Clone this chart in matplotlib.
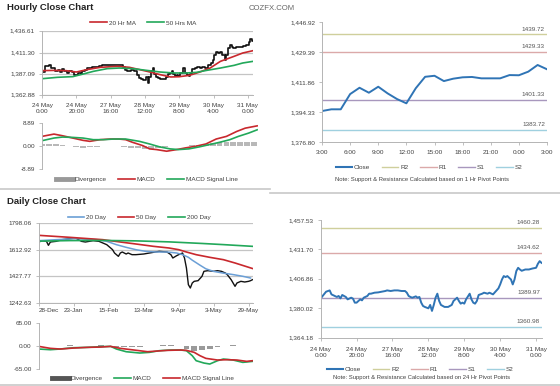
import matplotlib
matplotlib.use("Agg")
import matplotlib.pyplot as plt
from matplotlib.lines import Line2D

plt.rcParams["font.family"] = ["Liberation Sans", "DejaVu Sans"]

# hourly closes, 24 May 0:00 .. 31 May (bar index)
h_idx = [0, 3, 5, 6, 9, 10, 11, 12, 14, 15, 17, 18, 19, 20, 22, 23, 24, 26, 27, 28,
         30, 32, 34, 36, 37, 39, 41, 43, 45, 47, 48, 49, 50, 51, 53, 54, 55, 56, 57, 58,
         60, 61, 62, 63, 64, 65, 66, 67, 68, 69, 71, 73, 74, 75, 76, 77, 78, 79, 80, 81,
         83, 84, 85, 86, 87, 88, 90, 91, 93, 94, 96, 98, 99, 100, 101, 102, 103, 104, 106, 107,
         108, 109, 110, 111, 112, 114, 116, 118, 120, 121, 122, 123]
h_close = [1389.3, 1396.0, 1397.3, 1393.3, 1390.7, 1391.7, 1389.3, 1392.7, 1390.7, 1388.3,
           1390.0, 1389.0, 1385.0, 1385.0, 1388.3, 1387.3, 1390.0, 1391.7, 1394.0, 1394.0,
           1395.0, 1395.3, 1396.0, 1396.7, 1397.3, 1396.7, 1397.3, 1397.3, 1396.7, 1396.7,
           1395.0, 1391.7, 1390.7, 1390.0, 1391.3, 1390.0, 1390.7, 1385.0, 1381.7, 1380.7,
           1379.3, 1382.7, 1376.7, 1382.7, 1390.0, 1394.0, 1386.7, 1382.7, 1381.7, 1380.7,
           1380.7, 1382.7, 1386.7, 1388.3, 1390.0, 1386.7, 1384.0, 1385.0, 1384.0, 1388.3,
           1394.0, 1388.3, 1385.0, 1384.0, 1386.7, 1392.7, 1394.0, 1395.0, 1394.0, 1395.0,
           1393.3, 1397.3, 1399.3, 1403.3, 1408.3, 1411.7, 1410.7, 1411.7, 1408.3, 1403.3,
           1408.3, 1416.7, 1420.0, 1418.3, 1417.0, 1418.3, 1418.3, 1419.3, 1420.0, 1424.0,
           1426.7, 1425.0]
h_tick_idx = [0, 20, 40, 60, 80, 100, 120]
h_tick_labels = ["24 May\n0:00", "24 May\n20:00", "27 May\n16:00", "28 May\n12:00",
                 "29 May\n8:00", "30 May\n4:00", "31 May\n0:00"]

h_ma20_idx = [0, 7, 14, 20, 26, 34, 44, 51, 57, 63, 69, 75, 80, 86, 92, 98, 104, 112, 117, 123]
h_ma20 = [1390.6, 1390.9, 1390.6, 1389.0, 1391.7, 1394.4, 1395.6, 1394.4, 1391.7, 1389.0,
          1385.9, 1383.3, 1383.6, 1385.2, 1389.0, 1393.6, 1401.3, 1407.1, 1410.9, 1413.6]
h_ma50_idx = [0, 9, 18, 24, 30, 38, 45, 53, 61, 69, 77, 84, 90, 96, 104, 112, 117, 123]
h_ma50 = [1381.3, 1382.9, 1383.7, 1386.7, 1389.8, 1392.9, 1393.6, 1392.9, 1390.9, 1389.0,
          1387.9, 1387.9, 1388.6, 1390.9, 1393.6, 1396.7, 1399.4, 1401.3]

h_macd_idx = [0, 7, 12, 18, 24, 28, 34, 40, 45, 49, 53, 59, 63, 67, 73, 79, 84, 90, 96, 102,
              108, 114, 119, 126]
h_macd = [3.83, 4.72, 4.08, 3.19, 2.30, 1.92, 2.56, 2.81, 2.81, 2.56, 1.54, 0.27, -1.00, -1.26,
          -1.90, -1.26, -0.62, 0.01, 0.90, 2.81, 3.83, 5.73, 7.01, 7.90]
h_sig_idx = [0, 7, 12, 18, 24, 30, 36, 42, 49, 57, 63, 69, 75, 80, 86, 92, 98, 104, 110, 115,
             121, 126]
h_sig = [2.17, 3.19, 3.57, 3.44, 3.19, 2.56, 2.56, 2.81, 2.81, 1.92, 0.90, -0.24, -1.00, -1.26,
         -1.00, -0.24, 0.65, 1.54, 2.56, 3.83, 5.10, 6.37]
h_div_idx = list(range(0, 128, 4))
h_div = [0.9, 1.0, 0.7, 0.4, 0.0, -0.3, -0.5, -0.4, -0.1, 0.1, 0.1, 0.0, -0.2, -0.5, -0.8, -1.0,
         -0.9, -0.6, -0.3, 0.0, 0.1, 0.3, 0.4, 0.6, 0.9, 1.3, 1.6, 1.8, 1.7, 1.6, 1.5, 1.5]

# last 24 hours (1 Hr pivots)
hr24_close = [1394.9, 1395.9, 1395.9, 1404.8, 1408.5, 1405.6, 1409.1, 1405.2, 1401.9, 1399.4,
              1408.2, 1414.9, 1415.5, 1412.4, 1413.8, 1414.6, 1414.8, 1414.0, 1414.0, 1414.0,
              1415.9, 1415.8, 1417.9, 1421.8, 1419.3]
hr24_labels = ["3:00", "6:00", "9:00", "12:00", "15:00", "18:00", "21:00", "0:00", "3:00"]

pivot_names = ["R2", "R1", "S1", "S2"]
pivot_colors = ["#cfcf9c", "#dba9a9", "#a897bd", "#9fd0df"]
hr_pivots = [1439.72, 1429.33, 1401.33, 1383.72]
day_pivots = [1460.28, 1434.62, 1389.97, 1360.98]

# daily closes
d_idx = [0, 2, 4, 5, 6, 9, 12, 16, 19, 22, 24, 28, 31, 33, 35, 36, 38, 39, 41, 42,
         43, 45, 46, 48, 50, 54, 57, 60, 62, 66, 68, 69, 71, 72, 74, 75, 76, 77, 78, 79,
         80, 82, 84, 85, 87, 90, 92, 94, 96, 97, 99, 101, 102, 104, 106, 108, 109, 110]
d_close = [1666.1, 1675.4, 1670.8, 1643.0, 1666.1, 1670.8, 1682.3, 1689.3, 1693.9, 1670.8,
           1666.1, 1675.4, 1670.8, 1659.2, 1647.6, 1636.1, 1612.9, 1589.8, 1566.6, 1589.8,
           1596.7, 1582.8, 1589.8, 1578.2, 1578.2, 1582.8, 1589.8, 1596.7, 1601.3, 1596.7,
           1578.2, 1555.1, 1571.3, 1578.2, 1589.8, 1555.1, 1485.6, 1370.0, 1346.8, 1381.5,
           1393.1, 1397.7, 1427.8, 1462.5, 1467.1, 1462.5, 1467.1, 1462.5, 1450.9, 1439.4,
           1404.6, 1358.4, 1381.5, 1393.1, 1388.4, 1393.1, 1397.7, 1404.6]
d_tick_idx = [0, 18, 36, 54, 72, 90, 108]
d_tick_labels = ["28-Dec", "23-Jan", "15-Feb", "13-Mar", "9-Apr", "3-May", "29-May"]

d_ma20_idx = [0, 9, 19, 30, 35, 40, 45, 50, 55, 60, 66, 71, 74, 77, 79, 83, 86, 90, 95, 100, 105, 109]
d_ma20 = [1675.4, 1682.3, 1689.3, 1682.3, 1670.8, 1647.6, 1629.1, 1612.9, 1601.3, 1596.7,
          1596.7, 1589.8, 1578.2, 1560.0, 1540.0, 1505.0, 1480.0, 1462.0, 1450.0, 1440.0,
          1428.0, 1416.0]
d_ma50_idx = [0, 16, 33, 42, 50, 59, 67, 72, 76, 81, 88, 95, 101, 110]
d_ma50 = [1712.4, 1698.5, 1682.3, 1666.1, 1652.3, 1636.1, 1624.5, 1612.9, 1596.7, 1578.2,
          1559.7, 1543.5, 1520.4, 1482.0]
d_ma200_idx = [0, 16, 33, 50, 67, 84, 95, 110]
d_ma200 = [1672.0, 1676.0, 1677.0, 1674.0, 1667.0, 1656.0, 1648.0, 1636.0]

d_macd_idx = [0, 6, 11, 18, 25, 32, 37, 40, 45, 52, 57, 62, 68, 73, 76, 79, 81, 85, 88, 92,
              95, 100, 105, 110]
d_macd = [-9.4, -11.3, -9.4, -5.7, -4.7, -2.8, -1.9, -9.4, -17.0, -20.7, -18.8, -14.1, -12.2,
          -12.2, -14.1, -28.3, -42.4, -49.0, -51.8, -42.4, -37.7, -40.5, -47.1, -44.3]
d_sig_idx = [0, 6, 11, 18, 25, 32, 37, 42, 49, 56, 61, 66, 73, 76, 80, 83, 86, 92, 97, 102,
             107, 110]
d_sig = [-1.9, -7.5, -9.4, -6.6, -4.7, -3.8, -1.9, -7.5, -12.2, -17.0, -15.1, -13.2, -12.2,
         -13.2, -18.8, -28.3, -35.8, -40.5, -39.6, -40.5, -44.3, -42.4]
d_div_idx = list(range(0, 112, 4))
d_div = [-2, -1, -1, 0, 1, 0.5, 0, 0, 1, -1, -3, -5, -5, -4, -2, -1, 1, 1, 0, -8, -14, -13,
         -8, -3, -1, 1, -1, -2]

W, H = 560, 386
fig = plt.figure(figsize=(5.6, 3.86), dpi=100)
FS = 4.6
TXT = "#404040"
AX = "#b4b4b4"
RED = "#c8282d"
GREEN = "#22a85a"
BLUE = "#2f74b5"


def add_ax(x0, y0, x1, y1):
    return fig.add_axes([x0 / W, 1 - y1 / H, (x1 - x0) / W, (y1 - y0) / H])


def ftext(x, y, s, **kw):
    fig.text(x / W, 1 - y / H, s, **kw)


def style(ax):
    for s in ["top", "right"]:
        ax.spines[s].set_visible(False)
    for s in ["left", "bottom"]:
        ax.spines[s].set_color(AX)
        ax.spines[s].set_linewidth(0.7)
    ax.tick_params(labelsize=FS, colors=AX, labelcolor=TXT, length=2, width=0.6, pad=1.5)
    ax.tick_params(axis="y", pad=3)


def legend(x, y, handles, labels, **kw):
    fig.legend(handles, labels, loc="center", bbox_to_anchor=(x / W, 1 - y / H), ncol=len(handles),
               frameon=False, fontsize=FS, labelcolor=TXT, handlelength=2.6, handletextpad=0.3,
               columnspacing=1.8, borderpad=0, **kw)


def hline(x0, x1, y, color="#c8c8c8", lw=1.2):
    fig.add_artist(Line2D([x0 / W, x1 / W], [1 - y / H] * 2, transform=fig.transFigure,
                          color=color, lw=lw))


# ---- titles
ftext(7, 8, "Hourly Close Chart", fontsize=6.8, fontweight="bold", color="#222222", va="center")
ftext(249, 8, "COZFX.COM", fontsize=5.6, color="#666666", va="center")
ftext(7, 202, "Daily Close Chart", fontsize=6.8, fontweight="bold", color="#222222", va="center")

# ---- hourly price
ax = add_ax(42, 30.7, 253, 94.7)
style(ax)
ax.plot(h_idx, h_close, color="#111111", lw=1.2, drawstyle="steps-mid")
ax.plot(h_ma20_idx, h_ma20, color=RED, lw=1.2)
ax.plot(h_ma50_idx, h_ma50, color=GREEN, lw=1.2)
ax.set_xlim(0, 123)
ax.set_ylim(1362.88, 1436.61)
yt = [1362.88, 1387.09, 1411.30, 1436.61]
ax.set_yticks(yt)
ax.set_yticklabels([f"{v:,.2f}" for v in yt])
ax.yaxis.grid(True, color="#c4c4c4", lw=0.9)
ax.set_axisbelow(True)
ax.set_xticks(h_tick_idx)
ax.set_xticklabels(h_tick_labels, linespacing=1.35)
ax.tick_params(axis="x", pad=4)
legend(143, 23, [Line2D([0], [0], color=RED, lw=1.2), Line2D([0], [0], color=GREEN, lw=1.2)],
       ["20 Hr MA", "50 Hrs MA"])

# ---- hourly MACD
ax = add_ax(42, 123.3, 258, 169.3)
style(ax)
ax.spines["bottom"].set_visible(False)
ax.bar(h_div_idx, h_div, width=3.4, color="#b8b8b8")
ax.plot(h_macd_idx, h_macd, color=RED, lw=1.2)
ax.plot(h_sig_idx, h_sig, color=GREEN, lw=1.2)
ax.set_xlim(0, 126.5)
ax.set_ylim(-8.89, 8.89)
ax.set_yticks([-8.89, 0, 8.89])
ax.set_yticklabels(["-8.89", "0.00", "8.89"])
ax.set_xticks([])
legend(147, 179, [Line2D([0], [0], color="#999999", lw=3.5), Line2D([0], [0], color=RED, lw=1.2),
                  Line2D([0], [0], color=GREEN, lw=1.2)],
       ["Divergence", "MACD", "MACD Signal Line"])


def pivot_panel(box, xs, closes, pivots, ylim, yticks, ylabels, xticks, xlabels, lw, xpad):
    ax = add_ax(*box)
    style(ax)
    for v, c in zip(pivots, pivot_colors):
        ax.axhline(v, color=c, lw=1.0)
        ax.annotate(f"{v:.2f}", xy=(1, v), xycoords=("axes fraction", "data"), xytext=(-1.5, 2),
                    textcoords="offset points", ha="right", va="bottom", fontsize=FS, color="#555555")
    ax.plot(xs, closes, color=BLUE, lw=lw)
    ax.set_ylim(*ylim)
    ax.set_yticks(yticks)
    ax.set_yticklabels(ylabels)
    ax.set_xticks(xticks)
    ax.set_xticklabels(xlabels, linespacing=1.35)
    ax.tick_params(axis="x", pad=xpad)
    return ax


def pivot_legend(x, y):
    hs = [Line2D([0], [0], color=BLUE, lw=1.5)] + [Line2D([0], [0], color=c, lw=1.0)
                                                    for c in pivot_colors]
    legend(x, y, hs, ["Close"] + pivot_names)


# ---- right top (1 Hr pivots)
hrs = list(range(len(hr24_close)))
ax = pivot_panel((322, 22, 547, 142), hrs, hr24_close, hr_pivots, (1376.80, 1446.92),
                 [1376.80, 1394.33, 1411.86, 1429.39, 1446.92],
                 ["1,376.80", "1,394.33", "1,411.86", "1,429.39", "1,446.92"],
                 hrs[::3], hr24_labels, 1.4, 3.5)
ax.set_xlim(0, 24)
pivot_legend(429, 167)
ftext(422, 180, "Note: Support & Resistance Calculated based on 1 Hr Pivot Points",
      fontsize=4.2, color=TXT, ha="center", va="center")

hline(0, 270, 189)
hline(270, 560, 193)

# ---- daily price
ax = add_ax(38.7, 223, 253.3, 303)
style(ax)
ax.plot(d_idx, d_close, color="#111111", lw=1.0)
ax.plot(d_ma20_idx, d_ma20, color="#6b9fd6", lw=1.1)
ax.plot(d_ma50_idx, d_ma50, color=RED, lw=1.2)
ax.plot(d_ma200_idx, d_ma200, color=GREEN, lw=1.2)
ax.set_xlim(0, 110.4)
ax.set_ylim(1242.63, 1798.06)
yt = [1242.63, 1427.77, 1612.92, 1798.06]
ax.set_yticks(yt)
ax.set_yticklabels([f"{v:.2f}" for v in yt])
ax.yaxis.grid(True, color="#c4c4c4", lw=0.9)
ax.set_axisbelow(True)
ax.set_xticks(d_tick_idx)
ax.set_xticklabels(d_tick_labels)
ax.get_xticklabels()[0].set_ha("left")
legend(139, 217, [Line2D([0], [0], color="#6b9fd6", lw=1.2), Line2D([0], [0], color=RED, lw=1.2),
                  Line2D([0], [0], color=GREEN, lw=1.2)],
       ["20 Day", "50 Day", "200 Day"])

# ---- daily MACD
ax = add_ax(38.7, 322.7, 253.3, 368.7)
style(ax)
ax.spines["bottom"].set_visible(False)
ax.bar(d_div_idx, d_div, width=3.0, color="#9a9a9a")
ax.plot(d_macd_idx, d_macd, color=GREEN, lw=1.2)
ax.plot(d_sig_idx, d_sig, color=RED, lw=1.2)
ax.set_xlim(0, 110.4)
ax.set_ylim(-65, 65)
ax.set_yticks([-65, 0, 65])
ax.set_yticklabels(["-65.00", "0.00", "65.00"])
ax.set_xticks([])
legend(143, 378, [Line2D([0], [0], color="#555555", lw=3.5), Line2D([0], [0], color=GREEN, lw=1.2),
                  Line2D([0], [0], color=RED, lw=1.2)],
       ["Divergence", "MACD", "MACD Signal Line"])

# ---- right bottom (24 Hr pivots)
ax = pivot_panel((320.7, 220, 542, 337.5), h_idx, h_close, day_pivots, (1350, 1468),
                 [1350, 1379.5, 1409, 1438.5, 1468],
                 ["1,364.18", "1,380.02", "1,406.86", "1,431.70", "1,457.53"],
                 h_tick_idx, h_tick_labels, 1.4, 4.5)
ax.set_xlim(0, 123.3)
pivot_legend(420, 369)
ftext(422, 377, "Note: Support & Resistance Calculated based on 24 Hr Pivot Points",
      fontsize=4.2, color=TXT, ha="center", va="center")

hline(0, 560, 384.5)

fig.savefig("out.png", dpi=100, facecolor="white")
